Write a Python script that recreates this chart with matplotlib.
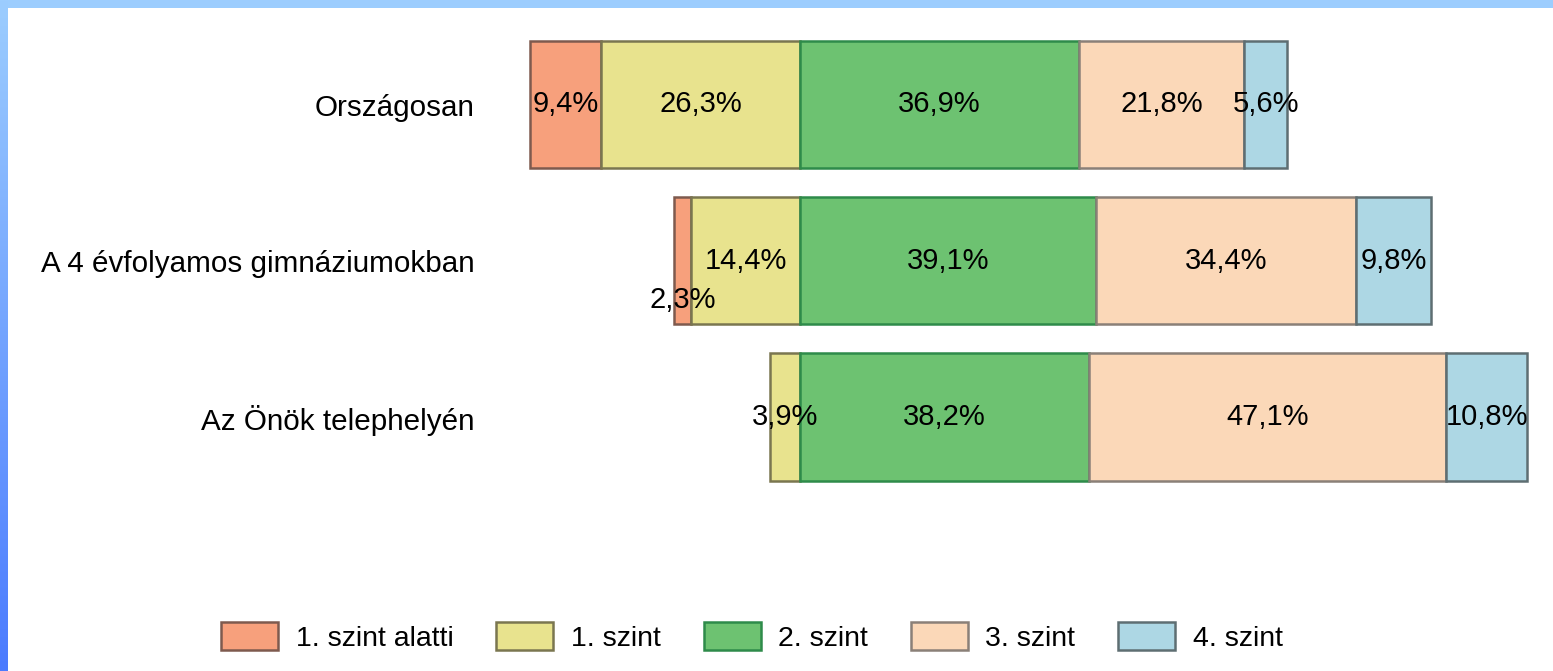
import matplotlib
matplotlib.use("Agg")
import matplotlib.pyplot as plt
import numpy as np
from matplotlib.patches import Patch
from matplotlib.colors import LinearSegmentedColormap

plt.rcParams['font.family'] = ['Liberation Sans', 'DejaVu Sans']

categories = ["Országosan", "A 4 évfolyamos gimnáziumokban", "Az Önök telephelyén"]
series_names = ["1. szint alatti", "1. szint", "2. szint", "3. szint", "4. szint"]
below1 = [9.4, 2.3, 0.0]
level1 = [26.3, 14.4, 3.9]
level2 = [36.9, 39.1, 38.2]
level3 = [21.8, 34.4, 47.1]
level4 = [5.6, 9.8, 10.8]

colors = ["#F7A07C", "#E8E38E", "#6DC271", "#FBD8B8", "#ADD7E4"]
edges = ["#7E5A4E", "#7A7650", "#2E8B4A", "#8A8078", "#5E6E72"]

W, H = 1553, 671
fig = plt.figure(figsize=(W / 100, H / 100), dpi=100)
fig.patch.set_facecolor("white")

# decorative frame: top strip and left gradient strip
top = fig.add_axes([0, 1 - 8 / H, 1, 8 / H])
top.set_axis_off()
top.add_patch(plt.Rectangle((0, 0), 1, 1, color="#9CCDFE", transform=top.transAxes))
left = fig.add_axes([0, 0, 8 / W, 1])
left.set_axis_off()
grad = np.linspace(0, 1, 256).reshape(-1, 1)
cm = LinearSegmentedColormap.from_list("g", ["#9CCDFE", "#4B7BFF"])
left.imshow(grad, aspect="auto", cmap=cm, extent=[0, 1, 1, 0])
left.set_xlim(0, 1); left.set_ylim(1, 0)

# main axes
scale = 7.57  # px per percent
xmin, xmax = -40, 99
ax_left_px = 800 + xmin * scale
ax_w_px = (xmax - xmin) * scale
ylo, yhi = -0.55, 2.55
unit = 156.25
ax_top_px = 104.5 + ylo * unit
ax_bot_px = 104.5 + yhi * unit
ax = fig.add_axes([ax_left_px / W, 1 - ax_bot_px / H, ax_w_px / W, (ax_bot_px - ax_top_px) / H])
ax.set_xlim(xmin, xmax)
ax.set_ylim(yhi, ylo)
for s in ax.spines.values():
    s.set_visible(False)
ax.set_xticks([])
y = np.arange(len(categories))
ax.set_yticks(y)
ax.set_yticklabels(categories, fontsize=21.3)
ax.tick_params(axis="y", length=0, pad=16)

b1 = np.array(below1); l1 = np.array(level1)
l2 = np.array(level2); l3 = np.array(level3); l4 = np.array(level4)
starts = [-(b1 + l1), -l1, np.zeros(3), l2, l2 + l3]
vals = [b1, l1, l2, l3, l4]
h = 0.813
for k in range(5):
    for i in range(3):
        v = vals[k][i]
        if v <= 0:
            continue
        ax.barh(y[i], v, left=starts[k][i], height=h, color=colors[k],
                edgecolor=edges[k], linewidth=1.8, zorder=2)
        cx = starts[k][i] + v / 2
        cy = y[i] + (0.25 if (v < 3 and k == 0 and i == 1) else 0)
        ax.text(cx, cy, f"{v:.1f}%".replace(".", ","), ha="center", va="center",
                fontsize=21, color="black", zorder=3)

handles = [Patch(facecolor=colors[k], edgecolor=edges[k], linewidth=1.8) for k in range(5)]
fig.legend(handles, series_names, loc="center", bbox_to_anchor=(752 / W, 1 - 637 / H),
           ncol=5, frameon=False, fontsize=20.5, handlelength=2.0, handleheight=1.1,
           handletextpad=0.62, columnspacing=1.5)

fig.savefig("out.png", dpi=100)
